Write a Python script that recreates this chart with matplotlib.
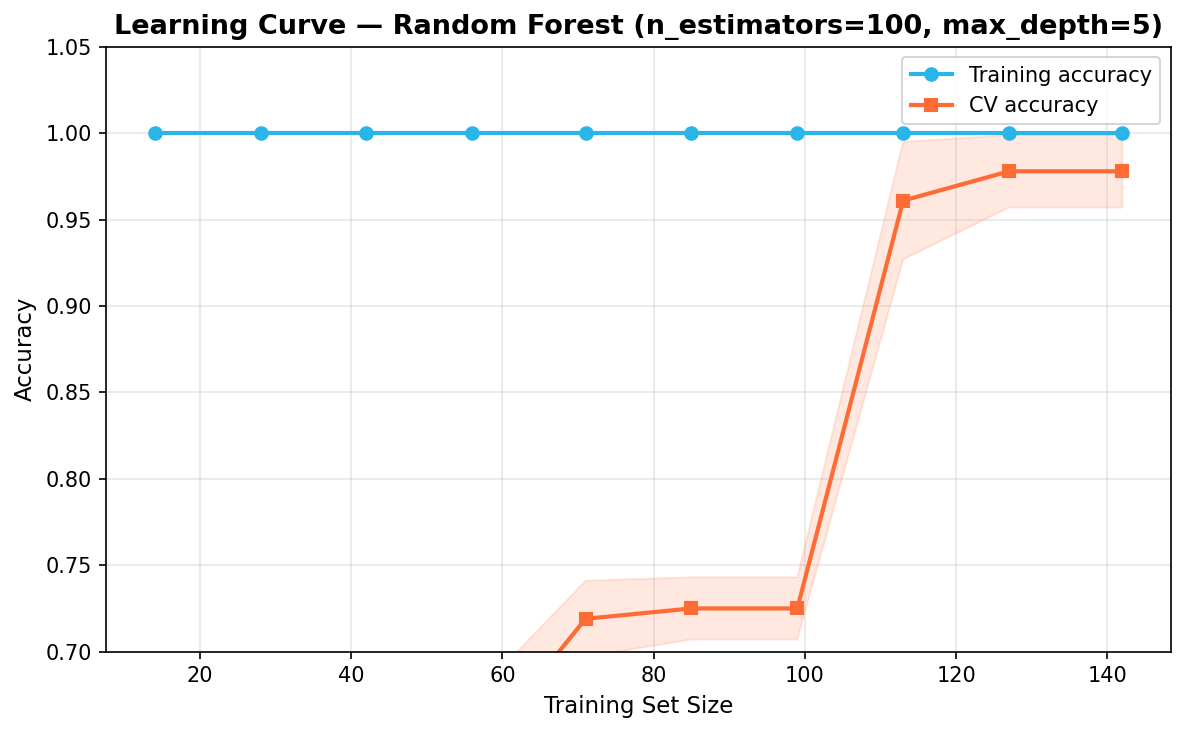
import numpy as np
import matplotlib.pyplot as plt

# learning curve values
train_sizes = [14, 28, 42, 56, 71, 85, 99, 113, 127, 142]
train_mean = [1.0, 1.0, 1.0, 1.0, 1.0, 1.0, 1.0, 1.0, 1.0, 1.0]
train_std = [0.0, 0.0, 0.0, 0.0, 0.0, 0.0, 0.0, 0.0, 0.0, 0.0]
cv_mean = [0.45, 0.52, 0.58, 0.638, 0.719, 0.725, 0.725, 0.961, 0.978, 0.978]
cv_std = [0.05, 0.05, 0.04, 0.035, 0.022, 0.018, 0.018, 0.034, 0.021, 0.021]

train_mean = np.array(train_mean)
train_std = np.array(train_std)
cv_mean = np.array(cv_mean)
cv_std = np.array(cv_std)

fig = plt.figure(figsize=(7.9, 4.887), dpi=150)
ax = fig.add_axes([0.0897, 0.111, 0.8983, 0.825])

train_color = '#29B5E8'
cv_color = '#FF6B35'

ax.plot(train_sizes, train_mean, 'o-', color=train_color, linewidth=2, markersize=6, label='Training accuracy')
ax.fill_between(train_sizes, train_mean - train_std, train_mean + train_std, color=train_color, alpha=0.15)
ax.plot(train_sizes, cv_mean, 's-', color=cv_color, linewidth=2, markersize=6, label='CV accuracy')
ax.fill_between(train_sizes, cv_mean - cv_std, cv_mean + cv_std, color=cv_color, alpha=0.15)

ax.set_ylim(0.70, 1.05)
ax.set_xlabel('Training Set Size', fontsize=11)
ax.set_ylabel('Accuracy', fontsize=11)
ax.set_title('Learning Curve — Random Forest (n_estimators=100, max_depth=5)', fontsize=13, fontweight='bold')
ax.grid(True, alpha=0.3)
ax.legend(loc='upper right', fontsize=10)

fig.savefig('out.png', dpi=150)
